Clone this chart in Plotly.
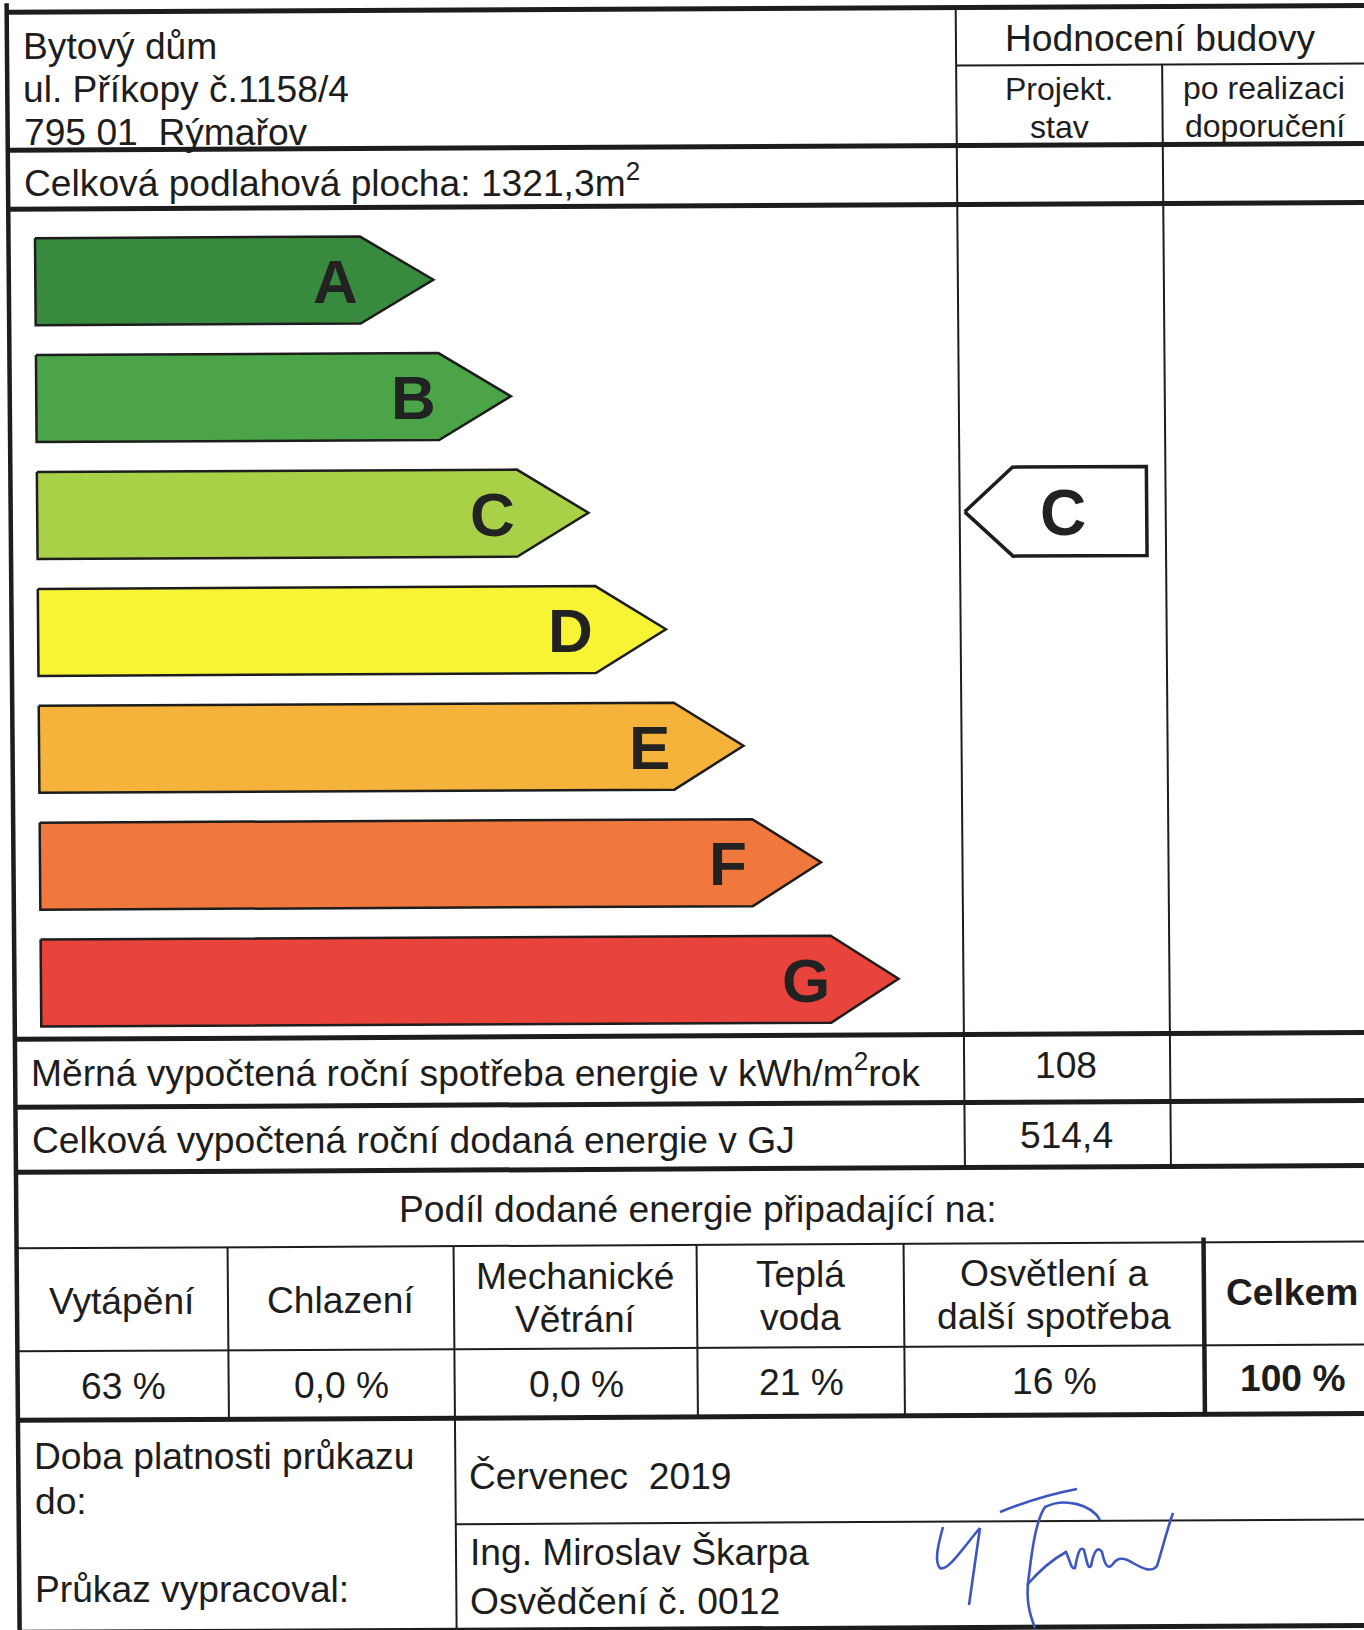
import plotly.graph_objects as go

# ---------------- data ----------------
classes = ["A", "B", "C", "D", "E", "F", "G"]
class_colors = ["#388a3e", "#4ba548", "#a9d148", "#f6f434", "#f5b33c", "#f1783c", "#e8443b"]
rating_project = "C"

address_lines = ["Bytový dům", "ul. Příkopy č.1158/4", "795 01  Rýmařov"]
floor_area = "1321,3"
header_title = "Hodnocení budovy"
header_cols = [["Projekt.", "stav"], ["po realizaci", "doporučení"]]
row_labels = ["Měrná vypočtená roční spotřeba energie v kWh/m<sup>2</sup>rok",
              "Celková vypočtená roční dodaná energie v GJ"]
row_values = ["108", "514,4"]
share_title = "Podíl dodané energie připadající na:"
share_labels = [["Vytápění"], ["Chlazení"], ["Mechanické", "Větrání"], ["Teplá", "voda"],
                ["Osvětlení a", "další spotřeba"]]
share_values = ["63 %", "0,0 %", "0,0 %", "21 %", "16 %"]
total_label = "Celkem"
total_value = "100 %"
validity_label = ["Doba platnosti průkazu", "do:"]
validity_value = "Červenec  2019"
author_label = "Průkaz vypracoval:"
author_lines = ["Ing. Miroslav Škarpa", "Osvědčení č. 0012"]

# ---------------- geometry / style ----------------
W, H = 1364, 1630
SKX, SKY = 0.008, 0.005
CX, CY = 680, 800
FONT = "Liberation Sans, Arial, sans-serif"
INK = "#1d1d1d"
FS = 37.2
LX = 27  # left text inset


def sk(x, y):
    return x + SKX * (y - CY), y - SKY * (x - CX)


fig = go.Figure()
shapes = []
annotations = []


def line(x0, y0, x1, y1, w):
    a = sk(x0, y0)
    b = sk(x1, y1)
    shapes.append(dict(type="line", xref="x", yref="y", x0=a[0], y0=a[1], x1=b[0], y1=b[1],
                       line=dict(color=INK, width=w)))


def text(x, y, s, size=FS, anchor="left", bold=False, color=INK):
    px, py = sk(x, y)
    annotations.append(dict(x=px, y=py, xref="x", yref="y", text=("<b>%s</b>" % s) if bold else s,
                            showarrow=False, xanchor=anchor, yanchor="middle",
                            font=dict(family=FONT, size=size, color=color)))


def poly(pts, fill, lw):
    xs, ys = [], []
    for (x, y) in pts + [pts[0]]:
        a, b = sk(x, y)
        xs.append(a)
        ys.append(b)
    fig.add_trace(go.Scatter(x=xs, y=ys, mode="lines", fill="toself", fillcolor=fill,
                             line=dict(color=INK, width=lw), hoverinfo="skip", showlegend=False))


# energy class arrows
LEFT = 39.5
TOP0, STEP_Y, BAR_H = 235, 116.9, 87
END0, STEP_X = 364.5, 77.5
for i, (c, col) in enumerate(zip(classes, class_colors)):
    top = TOP0 + STEP_Y * i
    bot = top + BAR_H
    mid = (top + bot) / 2
    end = END0 + STEP_X * i
    tip = 73 - 0.9 * i
    poly([(LEFT, top), (end, top), (end + tip, mid), (end, bot), (LEFT, bot)], col, 2.5)
    text(end - 25, mid + 1, c, size=62, anchor="center", bold=True, color="#222222")

# rating marker
ri = classes.index(rating_project)
mtop = TOP0 + STEP_Y * ri
mbot = mtop + 89
poly([(967, (mtop + mbot) / 2), (1015, mtop), (1149, mtop), (1149, mbot), (1015, mbot)], "white", 3.5)
text(1065, (mtop + mbot) / 2 + 2, rating_project, size=64, anchor="center", bold=True, color="#222222")

# ---------------- table lines ----------------
THICK, THIN = 5, 2
RIGHT = 1400
line(13, 0, 13, H + 20, 4.5)                # left border
for y in [9, 147, 206, 1036, 1104, 1169, 1417, 1629]:
    line(13, y, RIGHT, y, THICK)
line(962, 67, RIGHT, 67, THIN)
line(962, 9, 962, 1169, THIN)
line(1168, 67, 1168, 1169, THIN)
line(13, 1245, RIGHT, 1245, THIN)
line(13, 1348, RIGHT, 1348, THIN)
line(450, 1523, RIGHT, 1523, THIN)
for x in [224, 693, 900]:
    line(x, 1245, x, 1417, THIN)
line(450, 1245, 450, 1629, THIN)
line(1200, 1240, 1200, 1417, 4.5)

# ---------------- texts ----------------
for y, s in zip([43, 86, 129], address_lines):
    text(LX, y, s)
text(LX, 177, "Celková podlahová plocha: %sm<sup>2</sup>" % floor_area)
text(1167, 40, header_title, anchor="center")
for cx, lines_ in zip([1065, 1270], header_cols):
    text(cx, 91, lines_[0], size=32, anchor="center")
    text(cx, 129, lines_[1], size=32, anchor="center")
for y, s, v in zip([1067, 1136.5], row_labels, row_values):
    text(LX, y, s)
    text(1064, y, v, anchor="center")
text(695, 1209, share_title, anchor="center")
col_centers = [118.5, 337, 571.5, 796.5, 1050]
for cx, lab, val in zip(col_centers, share_labels, share_values):
    if len(lab) == 1:
        text(cx, 1298, lab[0], anchor="center")
    else:
        text(cx, 1275, lab[0], anchor="center")
        text(cx, 1318, lab[1], anchor="center")
    text(cx, 1383, val, anchor="center")
text(1288, 1295, total_label, anchor="center", bold=True)
text(1288, 1381, total_value, anchor="center", bold=True)
text(LX, 1453, validity_label[0])
text(LX, 1498, validity_label[1])
text(462, 1475, validity_value)
text(LX, 1586, author_label)
text(462, 1551, author_lines[0])
text(462, 1600, author_lines[1])

# signature (decorative ink stroke)
SIG = "#3d56c0"
sig_paths = [
    "M 943,1527 C 938,1545 934,1562 940,1568 C 948,1572 965,1545 980,1528",
    "M 980,1528 C 976,1555 972,1585 969,1605",
    "M 1000,1512 C 1025,1502 1050,1494 1077,1489",
    "M 1100,1520 C 1092,1505 1065,1497 1045,1507 C 1036,1520 1032,1550 1029,1575 C 1025,1600 1030,1615 1035,1628",
    "M 1027,1585 C 1040,1570 1055,1558 1066,1552 C 1070,1560 1071,1570 1075,1568 C 1078,1552 1080,1546 1084,1550"
    " C 1087,1562 1088,1570 1091,1566 C 1094,1550 1098,1546 1102,1552 C 1105,1566 1108,1570 1113,1564"
    " C 1118,1556 1125,1558 1133,1563 C 1145,1570 1152,1572 1157,1566 C 1162,1550 1167,1530 1173,1513",
]
for p in sig_paths:
    shapes.append(dict(type="path", xref="x", yref="y", path=p, line=dict(color=SIG, width=2.6)))

fig.update_layout(
    width=W, height=H, margin=dict(l=0, r=0, t=0, b=0),
    paper_bgcolor="white", plot_bgcolor="white",
    xaxis=dict(range=[0, W], visible=False, fixedrange=True),
    yaxis=dict(range=[H, 0], visible=False, fixedrange=True),
    shapes=shapes, annotations=annotations, showlegend=False,
)

fig.write_html("out.html", config={"displayModeBar": False},
               post_script="document.body.style.margin='0';document.body.style.overflow='hidden';")
